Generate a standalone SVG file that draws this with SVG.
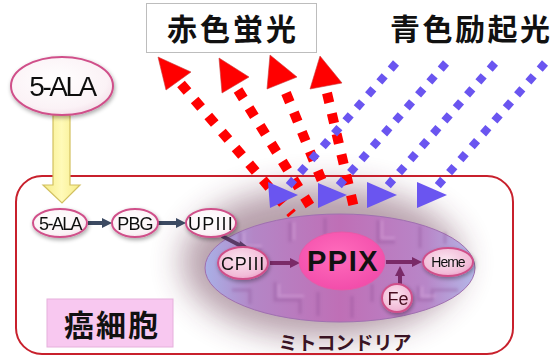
<svg xmlns="http://www.w3.org/2000/svg" width="555" height="356" viewBox="0 0 555 356">
  <defs>
    <style>
      .jp { font-family: "Noto Sans CJK JP", "Noto Sans", sans-serif; font-weight: bold; fill: #111; }
      .lat { font-family: "Liberation Sans", Arial, sans-serif; fill: #111; }
      .red-dots { fill: none; stroke: #ff0000; stroke-width: 10; stroke-dasharray: 10 11; }
      .red-head { fill: #ff0000; stroke: #c84040; stroke-width: 0.6; }
      .blue-dots { fill: none; stroke: #6a55f0; stroke-width: 8; stroke-dasharray: 8 9.2; }
      .blue-head { fill: #6a55f0; }
      .node-white { fill: url(#gWhite); stroke: #d0508a; stroke-width: 2; }
      .node-pink { fill: url(#gPink); stroke: #d0508a; stroke-width: 2; }
      .flow { stroke: #3c4a62; stroke-width: 4; fill: none; }
      .mflow { stroke: #7a2a68; stroke-width: 4; fill: none; }
    </style>
    <radialGradient id="gWhite" cx="0.45" cy="0.4" r="0.7">
      <stop offset="0" stop-color="#ffffff"/>
      <stop offset="0.7" stop-color="#fbf2f6"/>
      <stop offset="1" stop-color="#efd6e2"/>
    </radialGradient>
    <radialGradient id="gPink" cx="0.45" cy="0.4" r="0.7">
      <stop offset="0" stop-color="#fbe4f0"/>
      <stop offset="0.7" stop-color="#f2bcd8"/>
      <stop offset="1" stop-color="#e890bf"/>
    </radialGradient>
    <linearGradient id="gMito" x1="0" y1="0" x2="1" y2="0">
      <stop offset="0" stop-color="#a9b0e6"/>
      <stop offset="0.18" stop-color="#b486c6"/>
      <stop offset="0.5" stop-color="#bf6fb6"/>
      <stop offset="0.82" stop-color="#b886c8"/>
      <stop offset="1" stop-color="#b4b8e8"/>
    </linearGradient>
    <radialGradient id="gPPIX" cx="0.45" cy="0.4" r="0.7">
      <stop offset="0" stop-color="#ff6cbc"/>
      <stop offset="1" stop-color="#f048a8"/>
    </radialGradient>
    <linearGradient id="gYellow" x1="0" y1="0" x2="1" y2="0">
      <stop offset="0" stop-color="#f6ec88"/>
      <stop offset="0.5" stop-color="#fffab8"/>
      <stop offset="1" stop-color="#f6ec88"/>
    </linearGradient>
    <filter id="haze" x="-50%" y="-50%" width="200%" height="200%">
      <feGaussianBlur stdDeviation="16"/>
    </filter>
    <filter id="soft" x="-20%" y="-20%" width="140%" height="140%">
      <feGaussianBlur stdDeviation="1.5"/>
    </filter>
    <filter id="drop" x="-30%" y="-30%" width="160%" height="160%">
      <feGaussianBlur in="SourceAlpha" stdDeviation="2"/>
      <feOffset dx="1" dy="2"/>
      <feComponentTransfer><feFuncA type="linear" slope="0.35"/></feComponentTransfer>
      <feMerge><feMergeNode/><feMergeNode in="SourceGraphic"/></feMerge>
    </filter>
  </defs>

  <rect width="555" height="356" fill="#ffffff"/>

  <!-- dark glow behind the mitochondrion -->
  <ellipse cx="322" cy="262" rx="140" ry="76" fill="#5e2a44" opacity="0.45" filter="url(#haze)"/>

  <!-- cancer cell outline -->
  <rect id="cell" x="16" y="176" width="497" height="178" rx="26" ry="26" fill="none" stroke="#c8202c" stroke-width="2"/>

  <!-- title labels -->
  <g id="red-label">
    <rect x="146.5" y="3.5" width="170" height="49" fill="#ffffff" stroke="#bdbdbd" stroke-width="1"/>
    <text class="jp" x="167" y="40" font-size="30" letter-spacing="3">赤色蛍光</text>
  </g>
  <g id="blue-label">
    <text class="jp" x="390" y="40" font-size="30" letter-spacing="2.5">青色励起光</text>
  </g>

  <!-- light rays -->
  <g id="connectors">
    <g id="red-rays">
      <path class="red-dots" d="M181 84 L292 214"/>
      <polygon class="red-head" points="158,57 191,72 166,90"/>
      <path class="red-dots" d="M238 90 L312 209"/>
      <polygon class="red-head" points="219,58 249,77 222,93"/>
      <path class="red-dots" d="M286 93 L333 208"/>
      <polygon class="red-head" points="270,55 297,77 267,89"/>
      <path class="red-dots" d="M327 93 L354 208"/>
      <polygon class="red-head" points="320,56 342,83 310,89"/>
    </g>
    <g id="blue-rays">
      <path class="blue-dots" d="M396 63 L284 191"/>
      <polygon class="blue-head" points="268,182 298,195 270,208"/>
      <path class="blue-dots" d="M446 63 L334 191"/>
      <polygon class="blue-head" points="318,183 347,195 318,208"/>
      <path class="blue-dots" d="M495 63 L383 191"/>
      <polygon class="blue-head" points="367,182 397,195 367,208"/>
      <path class="blue-dots" d="M545 63 L433 191"/>
      <polygon class="blue-head" points="417,182 447,195 417,208"/>
    </g>

    <!-- yellow uptake arrow -->
    <path id="uptake" d="M53 115 L70 115 L70 185 L80 185 L62 203 L43 185 L53 185 Z" fill="url(#gYellow)" stroke="#d2c060" stroke-width="1.2"/>

    <!-- pathway arrows in cytoplasm -->
    <path class="flow" d="M88 223 L104 223"/>
    <polygon points="102,218 112,223 102,228" fill="#3c4a62"/>
    <path class="flow" d="M158 223 L178 223"/>
    <polygon points="176,218 186,223 176,228" fill="#3c4a62"/>
  </g>

  <!-- mitochondrion -->
  <g id="mitochondrion">
    <ellipse cx="340" cy="268" rx="135" ry="54" fill="url(#gMito)" stroke="#a070b0" stroke-width="1"/>
    <!-- cristae folds -->
    <g fill="none" stroke="#8a4c92" stroke-width="3" opacity="0.35" filter="url(#soft)">
      <path d="M240 232 L240 250 L262 250"/>
      <path d="M290 222 L290 242"/>
      <path d="M325 218 L325 235"/>
      <path d="M378 220 L378 242 L395 242"/>
      <path d="M420 226 L420 248"/>
      <path d="M445 232 L445 244"/>
      <path d="M232 290 L250 290 L250 304"/>
      <path d="M275 282 L275 300 L300 300 L300 314"/>
      <path d="M318 292 L318 316"/>
      <path d="M352 296 L352 318"/>
      <path d="M372 284 L372 302"/>
      <path d="M418 286 L418 300 L432 300 L432 290 L458 290"/>
    </g>
    <g fill="none" stroke="#e2b4e6" stroke-width="2" opacity="0.45" filter="url(#soft)">
      <path d="M244 232 L244 246 L262 246"/>
      <path d="M294 222 L294 240"/>
      <path d="M382 220 L382 238 L395 238"/>
      <path d="M279 284 L279 296 L304 296"/>
      <path d="M422 286 L422 296 L436 296"/>
    </g>
  </g>

  <!-- pathway arrows in the mitochondrion -->
  <g id="mito-arrows">
    <path d="M222 236 L243 247" stroke="#5a3a66" stroke-width="4" fill="none"/>
    <polygon points="240,241 252,250 238,251" fill="#5a3a66"/>
    <path class="mflow" d="M270 263 L292 263"/>
    <polygon points="290,258 300,263 290,268" fill="#7a2a68"/>
    <path class="mflow" d="M386 262 L414 262"/>
    <polygon points="412,257 422,262 412,267" fill="#7a2a68"/>
    <path class="mflow" d="M400 285 L400 274"/>
    <polygon points="395,276 400,266 405,276" fill="#7a2a68"/>
  </g>

  <!-- nodes -->
  <g id="node-ala-ext" filter="url(#drop)">
    <ellipse cx="62" cy="86" rx="51" ry="29" class="node-white"/>
    <text class="lat" x="62" y="96" font-size="28" text-anchor="middle" letter-spacing="-2.5">5-ALA</text>
  </g>
  <g id="node-ala" filter="url(#drop)">
    <ellipse cx="60" cy="223" rx="27" ry="14" class="node-white"/>
    <text class="lat" x="60" y="230" font-size="18" text-anchor="middle" letter-spacing="-1.6">5-ALA</text>
  </g>
  <g id="node-pbg" filter="url(#drop)">
    <ellipse cx="135" cy="223" rx="23" ry="14" class="node-white"/>
    <text class="lat" x="135" y="230" font-size="18" text-anchor="middle" letter-spacing="-0.8">PBG</text>
  </g>
  <g id="node-upiii" filter="url(#drop)">
    <ellipse cx="211" cy="223" rx="25" ry="14" class="node-white"/>
    <text class="lat" x="211" y="230" font-size="18" text-anchor="middle" letter-spacing="1.2">UPIII</text>
  </g>
  <g id="node-cpiii" filter="url(#drop)">
    <ellipse cx="243" cy="263" rx="25" ry="16" class="node-pink"/>
    <text class="lat" x="243" y="270" font-size="18" text-anchor="middle" letter-spacing="0.8">CPIII</text>
  </g>
  <g id="node-ppix">
    <ellipse cx="342" cy="261" rx="43" ry="29" fill="url(#gPPIX)" stroke="#e85aa8" stroke-width="1"/>
    <text class="lat" x="343" y="271" font-size="29" font-weight="bold" text-anchor="middle" letter-spacing="1.5">PPIX</text>
  </g>
  <g id="node-heme" filter="url(#drop)">
    <ellipse cx="448" cy="262" rx="25" ry="14" class="node-pink"/>
    <text class="lat" x="448" y="267" font-size="14" text-anchor="middle" letter-spacing="-1">Heme</text>
  </g>
  <g id="node-fe" filter="url(#drop)">
    <ellipse cx="397" cy="298" rx="15" ry="14" class="node-pink"/>
    <text class="lat" x="398" y="305" font-size="18" text-anchor="middle" style="fill:#4a1020">Fe</text>
  </g>

  <!-- region labels -->
  <g id="label-mito">
    <text class="jp" x="345" y="350" font-size="19" text-anchor="middle" style="fill:#3a1424">ミトコンドリア</text>
  </g>
  <g id="label-cell">
    <rect x="47" y="299" width="126" height="48" fill="#f8c8f0" stroke="#e6b0dc" stroke-width="1"/>
    <text class="jp" x="64" y="336" font-size="30" letter-spacing="2">癌細胞</text>
  </g>
</svg>
